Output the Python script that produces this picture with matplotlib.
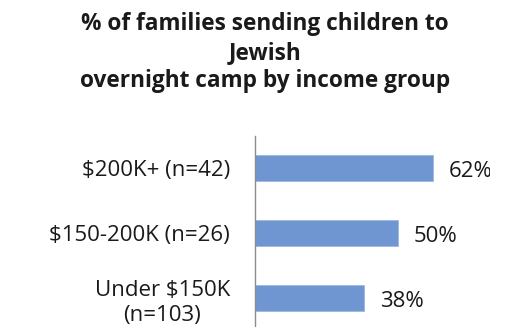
import matplotlib
matplotlib.use("Agg")
import matplotlib.pyplot as plt

# income groups, bottom to top
groups = ["Under $150K\n(n=103)", "$150-200K (n=26)", "$200K+ (n=42)"]
shares = [38, 50, 62]

plt.rcParams['font.family'] = ['Open Sans', 'DejaVu Sans']

fig = plt.figure(figsize=(5.1, 3.27), dpi=100)
ax = fig.add_axes([255 / 510, -3.5 / 327, 235 / 510, 195 / 327])

ax.barh(range(len(groups)), shares, height=0.4, color="#6f96d1",
        edgecolor="#9db8e0", linewidth=0.6)
ax.set_xlim(0, 82)
ax.set_ylim(-0.5, len(groups) - 0.5)

for i, v in enumerate(shares):
    ax.text(v + 5.5, i - 0.05, f"{v}%", va="center", ha="left",
            fontsize=16, color="#1a1a1a", clip_on=True)

ax.set_yticks(range(len(groups)))
ax.set_yticklabels(groups, fontsize=16, color="#1a1a1a")
for lbl in ax.get_yticklabels():
    lbl.set_multialignment("center")
    lbl.set_linespacing(1.3)
ax.tick_params(axis="y", length=0, pad=18)
ax.set_xticks([])

for side in ["top", "right", "bottom"]:
    ax.spines[side].set_visible(False)
ax.spines["left"].set_color("#8c8c8c")
ax.spines["left"].set_linewidth(1.0)

fig.text(0.52, 0.962, "% of families sending children to\nJewish\novernight camp by income group",
         ha="center", va="top", fontsize=16.3, fontweight="bold",
         color="#1a1a1a", linespacing=1.25)

fig.savefig("out.png", dpi=100)
